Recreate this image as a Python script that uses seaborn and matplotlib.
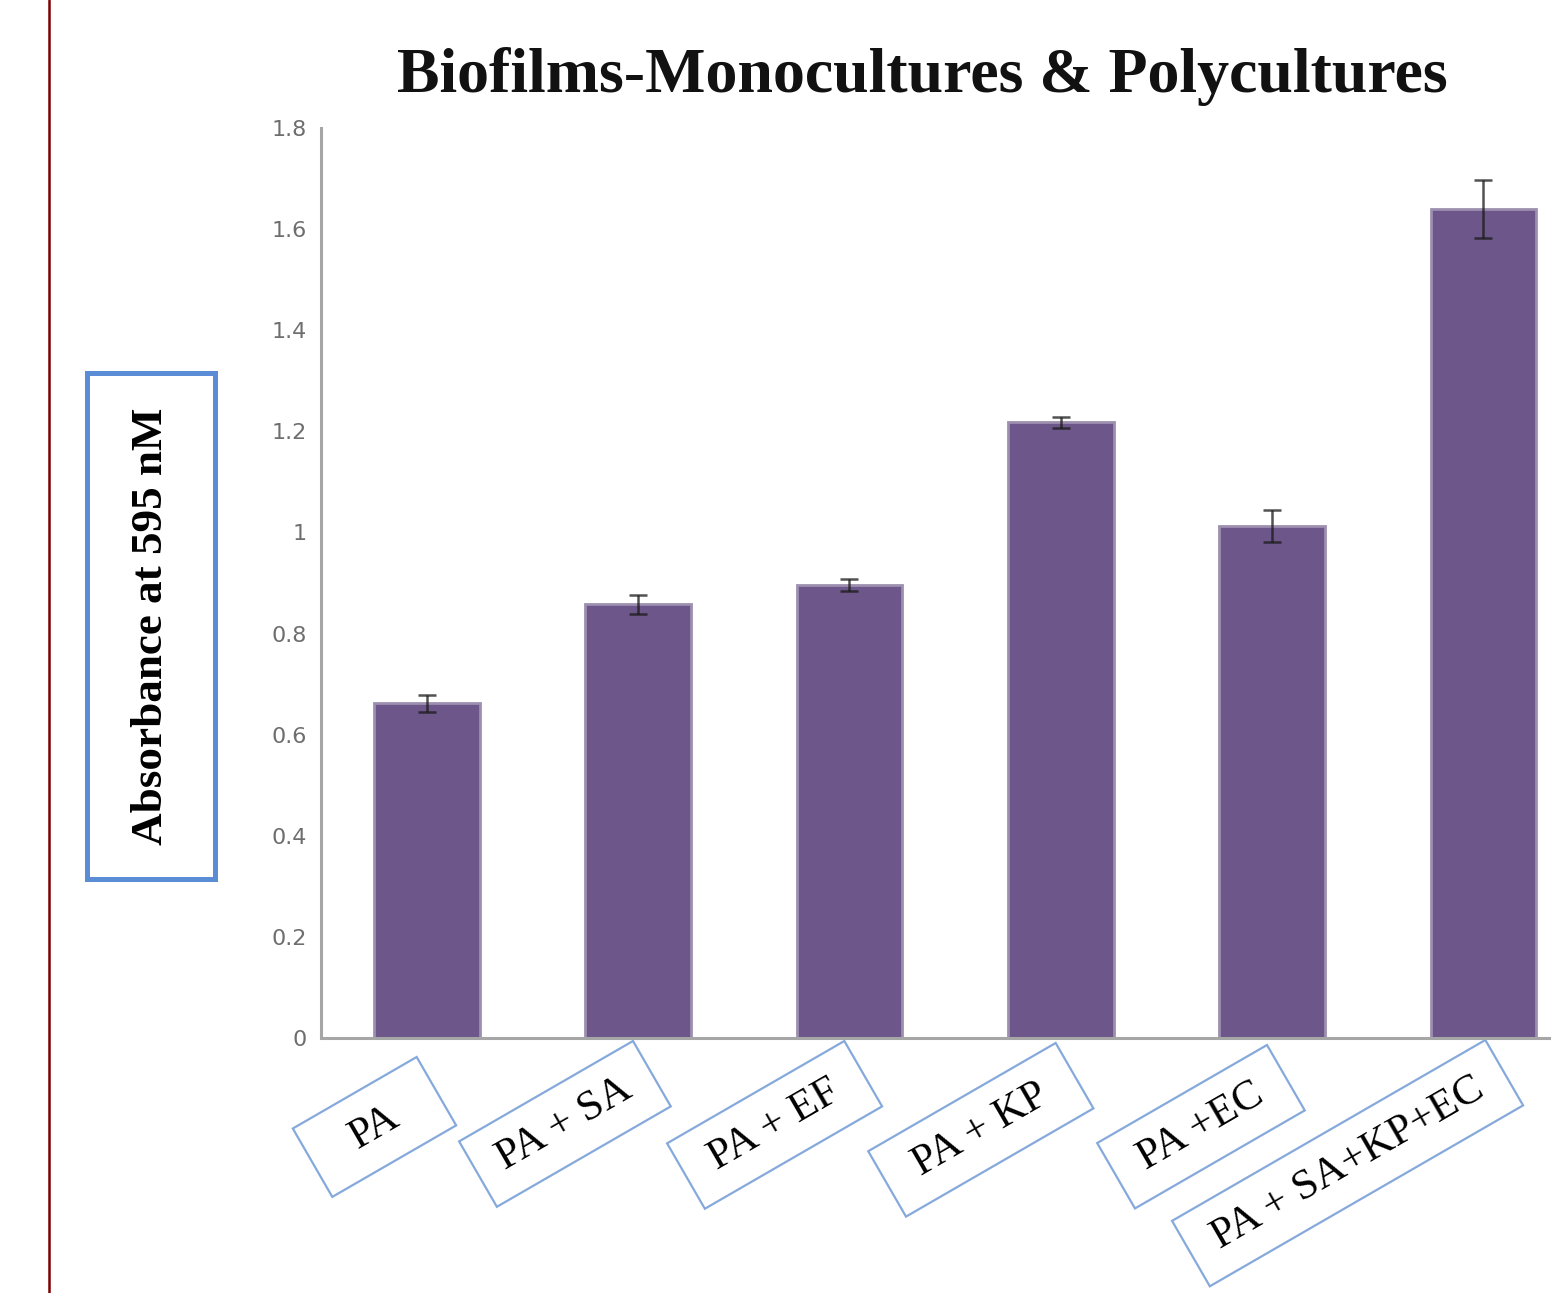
import numpy as np
import matplotlib
matplotlib.use("Agg")
import matplotlib.pyplot as plt
from matplotlib.path import Path
from matplotlib.lines import Line2D
from matplotlib.transforms import ScaledTranslation
import seaborn as sns

# Biofilm absorbance for mono- and polycultures
categories = ["PA", "PA + SA", "PA + EF", "PA + KP", "PA +EC", "PA + SA+KP+EC"]
absorbance = [0.662, 0.858, 0.896, 1.218, 1.013, 1.640]
abs_error = [0.017, 0.019, 0.012, 0.011, 0.032, 0.058]
y_ticks = [0, 0.2, 0.4, 0.6, 0.8, 1.0, 1.2, 1.4, 1.6, 1.8]
y_tick_labels = ["0", "0.2", "0.4", "0.6", "0.8", "1", "1.2", "1.4", "1.6", "1.8"]

# Category label boxes: pad along text, pad across text (font-size units),
# and shift of the box's upper corner from the tick (pixels)
label_box = [
    (1.07, 0.47, -10, 19),
    (0.60, 0.43, -5, 3),
    (0.70, 0.43, -5, 3),
    (0.78, 0.43, -5, 5),
    (0.67, 0.43, -5, 7),
    (0.63, 0.43, 2, 2),
]

BAR = "#6D5689"
BAR_EDGE = "#9D8FB0"
SPINE = "#A6A6A6"
BOX_BLUE = "#86A9DC"
SERIF = ["Liberation Serif", "DejaVu Serif"]


def padded_box(pad_x, pad_y):
    """Rectangular text box with separate horizontal/vertical padding."""
    def style(x0, y0, width, height, mutation_size):
        dx = pad_x * mutation_size
        dy = pad_y * mutation_size
        x1, y1 = x0 - dx, y0 - dy
        x2, y2 = x0 + width + dx, y0 + height + dy
        return Path([(x1, y1), (x2, y1), (x2, y2), (x1, y2), (x1, y1)],
                    [Path.MOVETO, Path.LINETO, Path.LINETO, Path.LINETO, Path.CLOSEPOLY])
    return style


sns.set_style("white")
plt.rcParams["font.family"] = ["DejaVu Sans"]

W, H = 1551, 1293
fig = plt.figure(figsize=(W / 100, H / 100), dpi=100)
ax_l, ax_r, ax_t, ax_b = 321, 1589, 128, 1038
ax = fig.add_axes([ax_l / W, (H - ax_b) / H, (ax_r - ax_l) / W, (ax_b - ax_t) / H])

sns.barplot(x=categories, y=absorbance, color=BAR, saturation=1, width=0.5,
            edgecolor=BAR_EDGE, linewidth=2, errorbar=None, ax=ax)
ax.errorbar(np.arange(len(categories)), absorbance, yerr=abs_error, fmt="none",
            ecolor="#1a1a1a", alpha=0.75, elinewidth=1.8, capsize=6.5, capthick=1.8)

ax.set_xlim(-0.5, len(categories) - 0.5)
ax.set_ylim(0, 1.8)
ax.set_yticks(y_ticks, y_tick_labels)
ax.tick_params(axis="y", length=0, pad=10, labelsize=16, labelcolor="#6E6E6E")
ax.tick_params(axis="x", length=0, pad=0)
for side in ["top", "right"]:
    ax.spines[side].set_visible(False)
for side in ["left", "bottom"]:
    ax.spines[side].set_color(SPINE)
    ax.spines[side].set_linewidth(2.2)
ax.set_xlabel("")

# Rotated, boxed category labels
label_size = 31
fs_px = label_size * fig.dpi / 72
for lab, (px, py, cx, cy) in zip(ax.get_xticklabels(), label_box):
    lab.set_fontfamily(SERIF)
    lab.set_fontsize(label_size)
    lab.set_color("black")
    lab.set_rotation(30)
    lab.set_rotation_mode("anchor")
    lab.set_ha("right")
    lab.set_va("top")
    lab.set_bbox(dict(boxstyle=padded_box(px, py), fc="white", ec=BOX_BLUE, lw=1.6))
    dx, dy = px * fs_px, py * fs_px
    ox = cx - 0.866 * dx + 0.5 * dy
    oy = -cy - 0.5 * dx - 0.866 * dy
    lab.set_transform(lab.get_transform()
                      + ScaledTranslation(ox / fig.dpi, oy / fig.dpi, fig.dpi_scale_trans))

# Boxed y-axis label
ax.set_ylabel("Absorbance at 595 nM", fontfamily=SERIF, fontsize=32.5,
              fontweight="bold", color="black")
ax.yaxis.set_label_coords((151 - ax_l) / (ax_r - ax_l), (ax_b - 626) / (ax_b - ax_t))
ax.yaxis.label.set_va("center")
ax.yaxis.label.set_ha("center")
ax.yaxis.label.set_bbox(dict(boxstyle=padded_box(0.75, 0.97), fc="white",
                             ec="#5B8DD6", lw=3.6))

fig.text(922 / W, 1 - 92 / H, "Biofilms-Monocultures & Polycultures",
         ha="center", va="baseline", fontsize=46, fontweight="bold",
         fontfamily=SERIF, color="#111111")

# Page margin rule on the left
fig.add_artist(Line2D([49.5 / W, 49.5 / W], [0, 1], color="#7F0000", lw=1.8,
                      transform=fig.transFigure))

fig.savefig("out.png", dpi=100)
